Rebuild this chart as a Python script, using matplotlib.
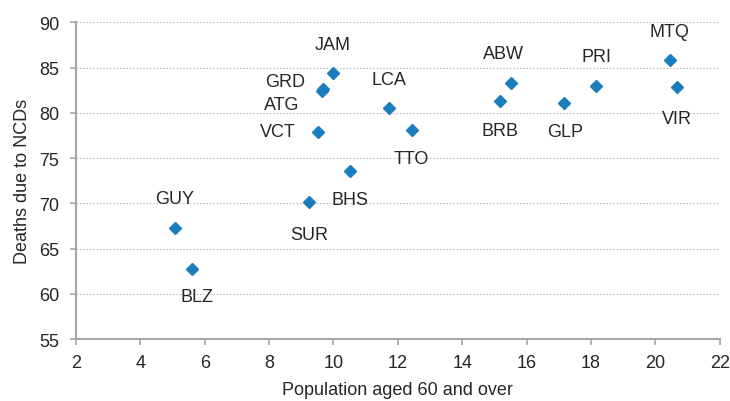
import matplotlib.pyplot as plt

plt.rcParams['font.family'] = ['Liberation Sans', 'DejaVu Sans']

# datos
paises = ['GUY', 'BLZ', 'SUR', 'BHS', 'VCT', 'ATG', 'GRD', 'JAM', 'LCA', 'TTO',
          'BRB', 'ABW', 'GLP', 'PRI', 'MTQ', 'VIR']
pob60 = [5.07, 5.61, 9.25, 10.51, 9.52, 9.63, 9.67, 9.99, 11.72, 12.43,
         15.17, 15.50, 17.16, 18.17, 20.45, 20.67]
muertes = [67.3, 62.7, 70.1, 73.6, 77.9, 82.4, 82.6, 84.4, 80.5, 78.1,
           81.3, 83.3, 81.1, 83.0, 85.8, 82.8]

# desplazamiento de cada etiqueta (en pixeles)
desp = {
    'GUY': (0, 29), 'BLZ': (5, -27), 'SUR': (0, -32), 'BHS': (0, -29),
    'VCT': (-40, 0), 'ATG': (-40, -13), 'GRD': (-38, 8), 'JAM': (0, 29),
    'LCA': (0, 29), 'TTO': (0, -28), 'BRB': (0, -29), 'ABW': (-7, 29),
    'GLP': (1, -29), 'PRI': (0, 29), 'MTQ': (0, 29), 'VIR': (0, -31),
}

fig = plt.figure(figsize=(7.3, 4.02), dpi=100)
ax = fig.add_axes([0.104, 0.154, 0.882, 0.788])

gris = '#a6a6a6'
ax.plot(pob60, muertes, 'D', color='#1b7dbb', markersize=6.6, zorder=3)

for p, x, y in zip(paises, pob60, muertes):
    dx, dy = desp[p]
    ax.annotate(p, (x, y), xytext=(dx * 0.72, dy * 0.72), textcoords='offset points',
                ha='center', va='center', fontsize=13, color='#262626')

ax.set_xlim(2, 22)
ax.set_ylim(55, 90)
ax.set_xticks(range(2, 23, 2))
ax.set_yticks(range(55, 91, 5))
ax.grid(axis='y', linestyle=(0, (1.5, 1.5)), color='#bfbfbf', linewidth=0.8)
ax.set_axisbelow(True)

for s in ['top', 'right']:
    ax.spines[s].set_visible(False)
for s in ['left', 'bottom']:
    ax.spines[s].set_color(gris)
    ax.spines[s].set_linewidth(1.5)
ax.tick_params(axis='both', colors=gris, labelcolor='#262626', labelsize=13,
               width=1.2, length=4)
ax.tick_params(axis='x', pad=7)
ax.tick_params(axis='y', pad=8)

ax.set_xlabel('Population aged 60 and over', fontsize=13, color='#262626', labelpad=7)
ax.set_ylabel('Deaths due to NCDs', fontsize=13, color='#262626', labelpad=6)

fig.savefig('out.png', dpi=100)
